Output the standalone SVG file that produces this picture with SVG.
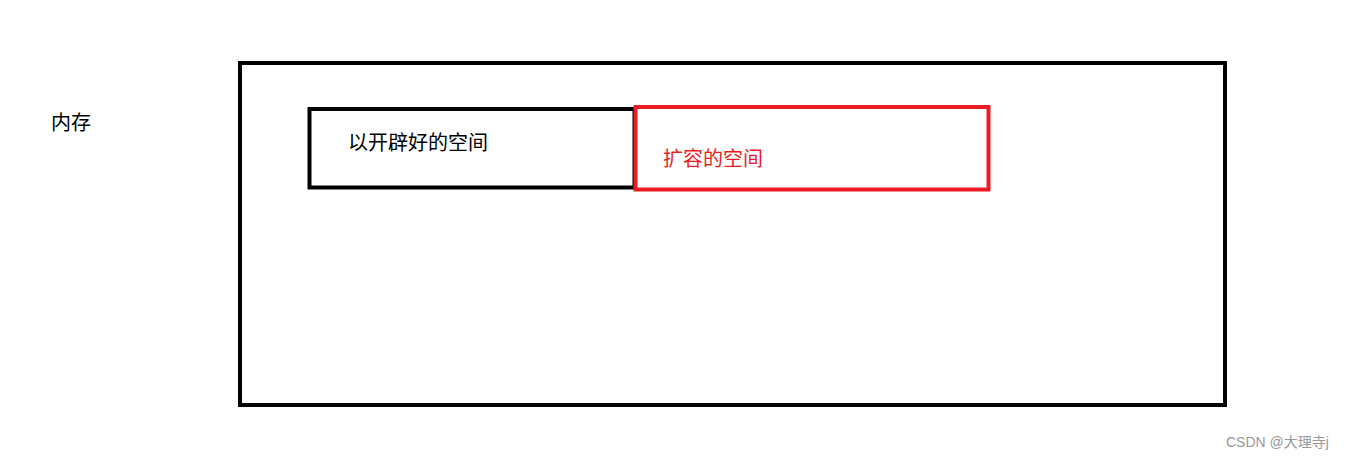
<svg xmlns="http://www.w3.org/2000/svg" width="1351" height="460" viewBox="0 0 1351 460">
<style>
text{font-family:"Liberation Sans","Noto Sans CJK SC",sans-serif;font-size:20px}
.box{fill:none;stroke-width:4}
</style>
<rect width="1351" height="460" fill="#fff"/>
<g id="label-memory"><text x="51" y="130">内存</text></g>
<g id="memory"><rect class="box" x="240" y="63" width="985" height="342" stroke="#000"/></g>
<g id="allocated"><rect class="box" x="309.5" y="109" width="325" height="78.5" stroke="#000"/><text x="348" y="150">以开辟好的空间</text></g>
<g id="expanded"><rect class="box" x="635.5" y="107" width="353" height="82.5" stroke="#ed1c24" stroke-width="4.5"/><text x="663" y="166" fill="#ed1c24">扩容的空间</text></g>
<g id="connectors"/>
<text x="1226" y="447" style="font-size:14px" fill="#999">CSDN @大理寺j</text>
</svg>
